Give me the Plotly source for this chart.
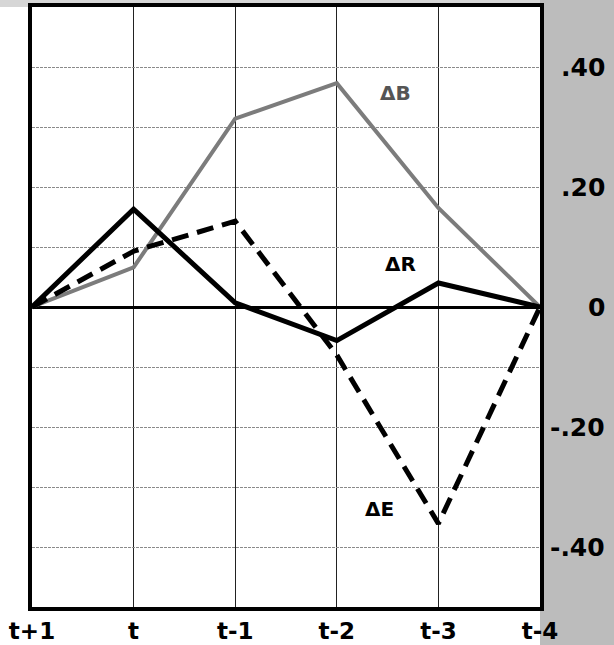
import plotly.graph_objects as go

periods = ["t+1", "t", "t-1", "t-2", "t-3", "t-4"]
delta_b = [0.0, 0.066, 0.314, 0.373, 0.165, 0.0]
delta_r = [0.0, 0.163, 0.007, -0.056, 0.040, 0.0]
delta_e = [0.0, 0.093, 0.143, -0.080, -0.361, 0.0]
y_ticks = [-0.5, -0.4, -0.3, -0.2, -0.1, 0.0, 0.1, 0.2, 0.3, 0.4, 0.5]
y_label_vals = [0.4, 0.2, 0.0, -0.2, -0.4]
y_label_text = [".40", ".20", "0", "-.20", "-.40"]
series_labels = [("ΔB", 3.58, 0.356, "#555555"), ("ΔR", 3.63, 0.071, "black"), ("ΔE", 3.42, -0.336, "black")]

x = list(range(len(periods)))
FONT = "DejaVu Sans"

fig = go.Figure()
fig.add_trace(go.Scatter(x=x, y=delta_b, mode="lines", line=dict(color="#7c7c7c", width=4), showlegend=False))
fig.add_trace(go.Scatter(x=x, y=delta_e, mode="lines", line=dict(color="black", width=5, dash="17px,9px"), showlegend=False))
fig.add_trace(go.Scatter(x=x, y=delta_r, mode="lines", line=dict(color="black", width=5), showlegend=False))

for txt, lx, ly, col in series_labels:
    fig.add_annotation(x=lx, y=ly, text=txt, showarrow=False,
                       font=dict(family=FONT, size=20, color=col, weight="bold"))

# right-hand value labels, right aligned like the original
for v, t in zip(y_label_vals, y_label_text):
    fig.add_annotation(xref="paper", x=1.132, xanchor="right", yref="y", y=v, text=t,
                       showarrow=False, font=dict(family=FONT, size=25, color="black", weight="bold"))

# textured background outside the plot (right side and top strip)
fig.add_shape(type="rect", xref="paper", yref="paper", x0=1.0, x1=1.2, y0=-0.1, y1=1.05,
              fillcolor="#bcbcbc", line_width=0, layer="below")
fig.add_shape(type="rect", xref="paper", yref="paper", x0=-0.1, x1=1.0, y0=1.0, y1=1.05,
              fillcolor="#d6d6d6", line_width=0, layer="below")

fig.update_xaxes(range=[0, 5], tickvals=x, ticktext=periods, showgrid=True,
                 gridcolor="#222222", gridwidth=1, showline=True, linecolor="black",
                 linewidth=4, mirror=True, ticks="", zeroline=False, automargin=False,
                 ticklabelstandoff=0,
                 tickfont=dict(family=FONT, size=23, color="black", weight="bold"))
fig.update_yaxes(range=[-0.5, 0.5], tickvals=y_ticks, showticklabels=False, side="right",
                 showgrid=True, gridcolor="#8a8a8a", gridwidth=1, griddash="3px,1px",
                 zeroline=True, zerolinecolor="black", zerolinewidth=3,
                 showline=True, linecolor="black", linewidth=4, mirror=True, ticks="",
                 automargin=False)

fig.update_layout(width=614, height=645, margin=dict(l=32, r=74, t=7, b=38),
                  paper_bgcolor="white", plot_bgcolor="white")

fig.write_html("out.html", config={"displayModeBar": False},
               post_script="document.body.style.margin='0';")
